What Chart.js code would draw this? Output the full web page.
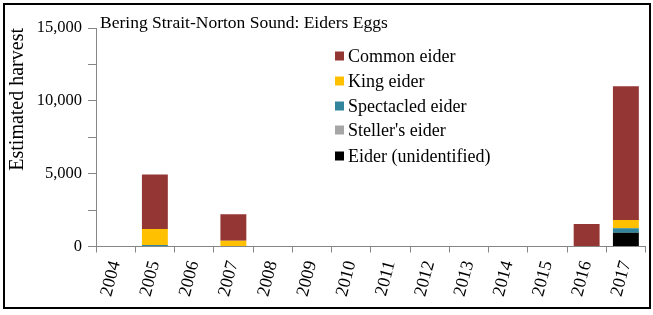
<!DOCTYPE html>
<html><head><meta charset="utf-8">
<script src="https://cdn.jsdelivr.net/npm/chart.js@4.4.1/dist/chart.umd.min.js"></script>
<style>html,body{margin:0;padding:0;background:#fff;}#wrap{width:653px;height:315px;position:relative;}</style>
</head><body><div id="wrap"><canvas id="c" width="653" height="315"></canvas></div>
<script>
const years = ['2004','2005','2006','2007','2008','2009','2010','2011','2012','2013','2014','2015','2016','2017'];
const commonEider     = [0, 3750, 0, 1815, 0, 0, 0, 0, 0, 0, 0, 0, 1550, 9180];
const kingEider       = [0, 1100, 0,  400, 0, 0, 0, 0, 0, 0, 0, 0,    0,  570];
const spectacledEider = [0,  100, 0,    0, 0, 0, 0, 0, 0, 0, 0, 0,    0,  300];
const stellersEider   = [0,    0, 0,    0, 0, 0, 0, 0, 0, 0, 0, 0,    0,    0];
const unidentified    = [0,    0, 0,    0, 0, 0, 0, 0, 0, 0, 0, 0,    0,  950];
const yTicks = [0, 5000, 10000, 15000];
const titleText = 'Bering Strait-Norton Sound: Eiders Eggs';
const yTitle = 'Estimated harvest';

const FONT = '"Liberation Serif", "Times New Roman", serif';
const legendOrder = ['Common eider','King eider','Spectacled eider',"Steller's eider",'Eider (unidentified)'];

const extras = {
  id: 'extras',
  afterDraw(chart) {
    const ctx = chart.ctx, a = chart.chartArea;
    ctx.save();
    ctx.fillStyle = '#000';
    ctx.font = '17.5px ' + FONT;
    ctx.textBaseline = 'middle';
    ctx.textAlign = 'left';
    ctx.fillText(titleText, a.left + 4, 23);
    // legend
    ctx.font = '18px ' + FONT;
    const rows = [56, 81, 106, 130, 156];
    legendOrder.forEach((lab, i) => {
      const ds = chart.data.datasets.find(d => d.label === lab);
      ctx.fillStyle = ds.backgroundColor;
      ctx.fillRect(335, rows[i] - 4.5, 9, 9);
      ctx.fillStyle = '#000';
      ctx.fillText(lab, 348, rows[i] + 1);
    });
    // border
    ctx.strokeStyle = '#000';
    ctx.lineWidth = 2;
    ctx.strokeRect(4, 4, 646, 304);
    ctx.restore();
  }
};

new Chart(document.getElementById('c'), {
  type: 'bar',
  data: {
    labels: years,
    datasets: [
      {label: 'Eider (unidentified)', data: unidentified, backgroundColor: '#000000'},
      {label: 'Spectacled eider', data: spectacledEider, backgroundColor: '#31849B'},
      {label: "Steller's eider", data: stellersEider, backgroundColor: '#A6A6A6'},
      {label: 'King eider', data: kingEider, backgroundColor: '#FFC000'},
      {label: 'Common eider', data: commonEider, backgroundColor: '#943634'}
    ]
  },
  options: {
    responsive: false,
    animation: false,
    devicePixelRatio: 1,
    layout: {padding: {top: 28, right: 7, left: 0, bottom: 0}},
    datasets: {bar: {categoryPercentage: 1, barPercentage: 0.66, borderWidth: 0}},
    plugins: {legend: {display: false}, tooltip: {enabled: false}, title: {display: false}},
    scales: {
      x: {
        stacked: true,
        afterFit(s) { s.height = 68.5; },
        border: {display: true, color: '#868686', width: 1},
        grid: {offset: true, drawOnChartArea: false, drawTicks: true, tickLength: 6, color: '#868686'},
        ticks: {color: '#000', font: {family: FONT, size: 18}, minRotation: 75, maxRotation: 75, padding: 6, autoSkip: false}
      },
      y: {
        stacked: true,
        min: 0, max: 15000,
        afterFit(s) { s.width = 96; },
        border: {display: true, color: '#868686', width: 1},
        grid: {drawOnChartArea: false, drawTicks: true, tickLength: 8, color: '#868686'},
        ticks: {stepSize: 2500, color: '#000', padding: 6, font: {family: FONT, size: 16.5},
          callback: v => yTicks.includes(v) ? v.toLocaleString('en-US') : ''},
        title: {display: true, text: yTitle, align: 'end', color: '#000', font: {family: FONT, size: 20}, padding: {top: 6, bottom: 0}}
      }
    }
  },
  plugins: [extras]
});
</script></body></html>
